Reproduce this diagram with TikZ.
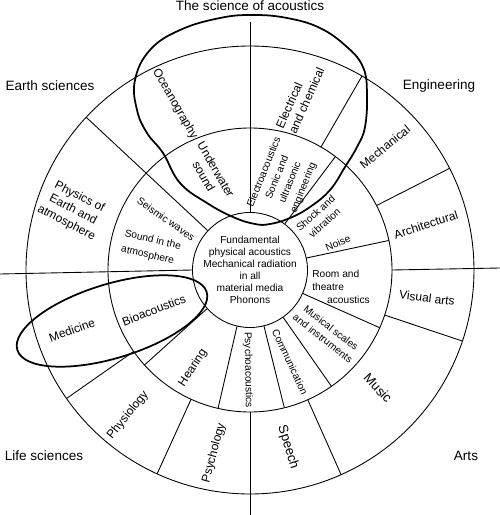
\documentclass[tikz,border=0pt]{standalone}
\usepackage{fontspec}
\setmainfont{Liberation Sans}
\usepackage{tikz}

\begin{document}
\begin{tikzpicture}[x=0.02cm, y=0.02cm,
  core/.style     = {circle, draw, line width=0.5pt, minimum size=2.28cm, inner sep=0pt, align=center, font=\fontsize{5.8}{6.8}\selectfont},
  ring/.style     = {line width=0.5pt},
  divider/.style  = {line width=0.5pt},
  loopline/.style = {line width=1pt},
  field/.style    = {anchor=base, inner sep=0pt, font=\fontsize{7.7}{9}\selectfont},
  seclbl/.style   = {inner sep=0pt, align=center, font=\fontsize{6.8}{8}\selectfont},
  smalllbl/.style = {inner sep=0pt, align=center, font=\fontsize{5.8}{7.6}\selectfont},
]
\useasboundingbox (-250,-245) rectangle (250,270);

% rings
\node[core] (core) at (0,0) {Fundamental\\physical acoustics\\Mechanical radiation\\in all\\material media\\Phonons};
\draw[ring] (0,0) circle [radius=142];
\draw[ring] (0,0) circle [radius=224];

% axes
\draw[divider] (core.90) -- (0,248);
\draw[divider] (core.180) -- (-250,-4);
\draw[divider] (0:142) -- (250,2);
\draw[divider] (-90:142) -- (0,-245);

% inner ring dividers
\draw[divider] (core.53) -- (53:142);
\draw[divider] (core.12) -- (12:142);
\draw[divider] (core.336) -- (336:142);
\draw[divider] (core.305) -- (305:142);
\draw[divider] (core.284) -- (284:142);
\draw[divider] (core.257) -- (257:142);
\draw[divider] (core.222) -- (222:142);
\draw[divider] (core.137) -- (137:224);

% outer ring dividers
\draw[divider] (60:142) -- (60:224);
\draw[divider] (27:142) -- (27:224);
\draw[divider] (-18.5:142) -- (-18.5:224);
\draw[divider] (-66:142) -- (-66:224);
\draw[divider] (-114.5:142) -- (-114.5:224);
\draw[divider] (-145:142) -- (-145:224);

% fields
\node[field] (sci) at (0,260) {The science of acoustics};
\node[field] (earth) at (-200,180) {Earth sciences};
\node[field] (eng) at (189,181) {Engineering};
\node[field] (life) at (-206,-190) {Life sciences};
\node[field] (arts) at (216,-190) {Arts};

% outer ring
\node[seclbl, rotate=-60] (ocean) at (-75,166) {Oceanography};
\node[seclbl, rotate=66, align=left] (elec) at (50,172) {Electrical\\and chemical};
\node[seclbl, rotate=39] (mech) at (135,123) {Mechanical};
\node[seclbl, rotate=18] (arch) at (176,45) {Architectural};
\node[seclbl, rotate=-7] (visual) at (177,-28) {Visual arts};
\node[seclbl, rotate=-47, font=\fontsize{7.5}{9}\selectfont] (music) at (128,-118) {Music};
\node[seclbl, rotate=-73, font=\fontsize{7.5}{9}\selectfont] (speech) at (38,-177) {Speech};
\node[seclbl, rotate=75] (psych) at (-36,-183) {Psychology};
\node[seclbl, rotate=51] (physio) at (-122,-145) {Physiology};
\node[seclbl, rotate=20] (med) at (-178,-60) {Medicine};
\node[seclbl, rotate=-27, font=\fontsize{6.8}{8.3}\selectfont] (physics) at (-177,60) {Physics of\\Earth and\\atmosphere};

% inner ring
\node[seclbl, rotate=-60] (under) at (-40,97) {Underwater\\sound};
\node[smalllbl, rotate=68, font=\fontsize{5.8}{8}\selectfont] (electro) at (34,90) {Electroacoustics\\Sonic and\\ultrasonic\\engineering};
\node[smalllbl, rotate=42] (shock) at (70,52) {Shock and\\vibration};
\node[smalllbl, rotate=23] (noise) at (88,27) {Noise};
\node[smalllbl, align=left] (room) at (91,-17) {Room and\\theatre\\\hspace*{8.5pt}acoustics};
\node[smalllbl, rotate=-38] (scales) at (77,-63) {Musical scales\\and instruments};
\node[smalllbl, rotate=-65] (comm) at (40,-92) {Communication};
\node[smalllbl, rotate=-89] (psyac) at (-2,-100) {Psychoacoustics};
\node[seclbl, rotate=57] (hear) at (-57,-98) {Hearing};
\node[seclbl, rotate=21] (bio) at (-96,-40) {Bioacoustics};
\node[smalllbl, rotate=-35] (seismic) at (-84,51) {Seismic waves};
\node[smalllbl, rotate=-13, align=left, font=\fontsize{5.8}{9}\selectfont] (atmo) at (-99,22) {Sound in the\\atmosphere};

% loops
\draw[loopline] plot[smooth cycle, tension=0.7] coordinates {(3,255) (37,252) (70,242) (97,223) (113,203) (117,177) (115,143) (107,123) (95,103) (80,80) (60,63) (40,52) (20,46) (5,46) (-17,53) (-43,67) (-70,87) (-87,117) (-103,137) (-113,160) (-115,190) (-100,220) (-70,240) (-30,252)};
\draw[loopline, rotate around={17:(-138,-51)}] (-138,-51) ellipse [x radius=99, y radius=37];
\end{tikzpicture}
\end{document}
